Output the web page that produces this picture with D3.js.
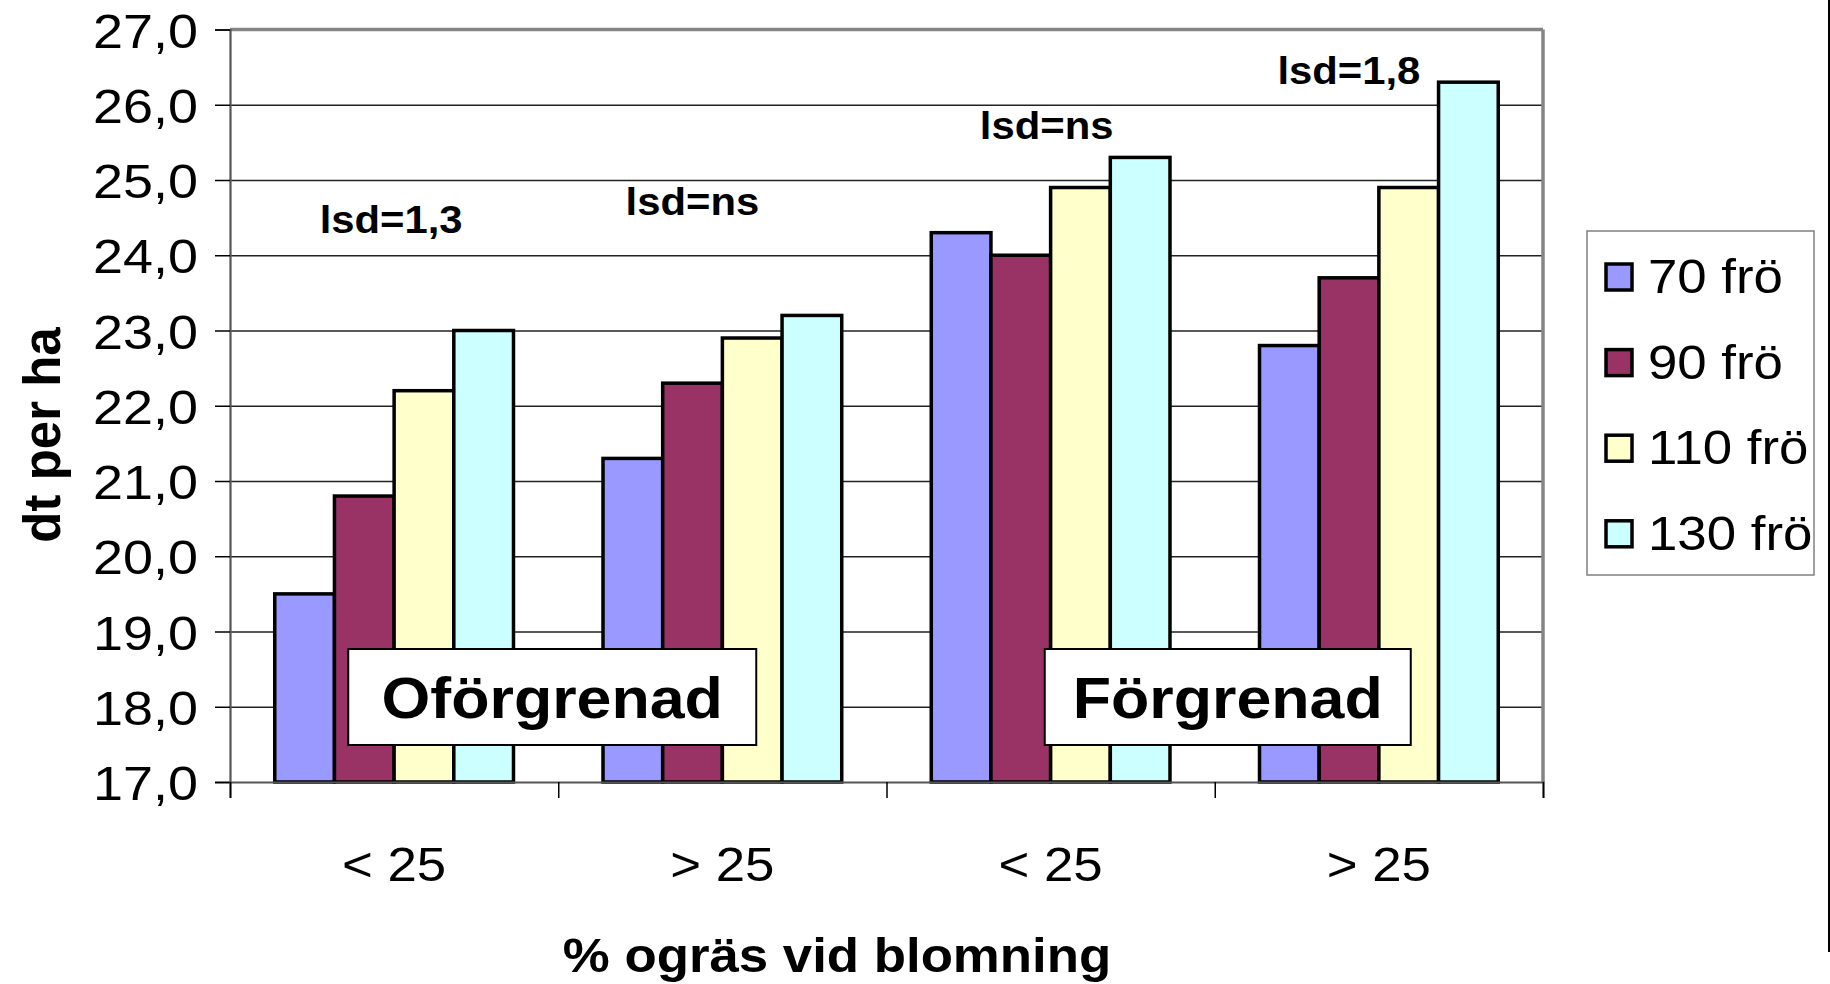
<!DOCTYPE html>
<html>
<head>
<meta charset="utf-8">
<script src="https://cdnjs.cloudflare.com/ajax/libs/d3/7.8.5/d3.min.js"></script>
<style>
body { margin: 0; background: #fff; }
text { font-family: Arial, "Liberation Sans", sans-serif; fill: #000; }
</style>
</head>
<body>
<div id="chart"></div>
<script>
// data
var categories = ["< 25", "> 25", "< 25", "> 25"]
var series = ["70 frö", "90 frö", "110 frö", "130 frö"]
var colors = ["#9999FF", "#993366", "#FFFFCC", "#CCFFFF"]
var v70  = [19.5, 21.3, 24.3, 22.8]
var v90  = [20.8, 22.3, 24.0, 23.7]
var v110 = [22.2, 22.9, 24.9, 24.9]
var v130 = [23.0, 23.2, 25.3, 26.3]
var yTicks = [17, 18, 19, 20, 21, 22, 23, 24, 25, 26, 27]
var lsdText = ["lsd=1,3", "lsd=ns", "lsd=ns", "lsd=1,8"]
var groupNames = ["Oförgrenad", "Förgrenad"]
var yTitle = "dt per ha"
var xTitle = "% ogräs vid blomning"

var values = [v70, v90, v110, v130]

// layout
var W = 1830, H = 984
var pL = 230, pR = 1543, pT = 29.5, pB = 782
var sx = 1.1   // the picture's text is a bit wide

// where the free text sits: [x shift from band centre, y in chart units]
var lsdPos = [[-3, 24.48], [-30, 24.72], [-4, 25.73], [-30, 26.46]]
// label boxes: [first band, last band, x shift, width]
var boxPos = [[0, 1, -6, 408], [2, 3, 13, 366]]

var svg = d3.select("#chart")
  .append("svg")
  .attr("width", W)
  .attr("height", H)

var y = d3.scaleLinear().domain([17, 27]).range([pB, pT])
var x0 = d3.scaleBand().domain(d3.range(categories.length)).range([pL, pR]).padding(0)
var bw = x0.bandwidth() / 5.5
var x1 = d3.scaleBand().domain(d3.range(series.length))
  .range([bw * 0.75, x0.bandwidth() - bw * 0.75]).padding(0)

function fmt(d) { return d.toFixed(1).replace(".", ",") }

function stext(sel, x, yy, str, size, weight, anchor) {
  return sel.append("text")
    .attr("transform", "translate(" + x + "," + yy + ") scale(" + sx + ",1)")
    .attr("text-anchor", anchor)
    .style("font-size", size + "px")
    .style("font-weight", weight)
    .text(str)
}

// gridlines
var grid = svg.append("g")
  .attr("transform", "translate(" + pL + ",0)")
  .call(d3.axisLeft(y).tickValues(yTicks.slice(1, -1)).tickSize(-(pR - pL)).tickFormat(""))
grid.select(".domain").remove()
grid.selectAll("line").style("stroke", "#222").style("stroke-width", 1.4)

// bars
var groups = svg.selectAll(".grp")
  .data(categories)
  .enter()
  .append("g")
  .attr("class", "grp")
  .attr("transform", function (d, i) { return "translate(" + x0(i) + ",0)" })

groups.selectAll("rect")
  .data(function (d, i) { return values.map(function (s, j) { return { s: j, v: s[i] } }) })
  .enter()
  .append("rect")
  .attr("x", function (d) { return x1(d.s) })
  .attr("width", x1.bandwidth())
  .attr("y", function (d) { return y(d.v) })
  .attr("height", function (d) { return y(17) - y(d.v) })
  .style("fill", function (d) { return colors[d.s] })
  .style("stroke", "#000")
  .style("stroke-width", 3.5)

// plot frame, top and right in grey
svg.append("line").attr("x1", pL).attr("x2", pR).attr("y1", pT).attr("y2", pT)
  .style("stroke", "#858585").style("stroke-width", 3.5)
svg.append("line").attr("x1", pR).attr("x2", pR).attr("y1", pT).attr("y2", pB)
  .style("stroke", "#858585").style("stroke-width", 3.5)

// y axis
var yAxis = svg.append("g")
  .attr("transform", "translate(" + pL + ",0)")
  .call(d3.axisLeft(y).tickValues(yTicks).tickSize(15).tickPadding(0).tickFormat(fmt))
yAxis.select(".domain").style("stroke", "#555").style("stroke-width", 2.2)
yAxis.selectAll("line").style("stroke", "#000").style("stroke-width", 1.5)
yAxis.selectAll("text")
  .attr("x", -32 / sx)
  .attr("dy", "0.36em")
  .attr("transform", "scale(" + sx + ",1)")
  .style("font-size", "49px")
  .style("font-family", "Arial, 'Liberation Sans', sans-serif")

// x axis: ticks on the band edges, labels in the middle
var xe = d3.scaleLinear().domain([0, categories.length]).range([pL, pR])
var xAxis = svg.append("g")
  .attr("transform", "translate(0," + pB + ")")
  .call(d3.axisBottom(xe).tickValues(d3.range(categories.length + 1)).tickSize(16).tickFormat(""))
xAxis.select(".domain").style("stroke", "#555").style("stroke-width", 2.2)
xAxis.selectAll("line").style("stroke", "#000").style("stroke-width", 1.5)

categories.forEach(function (c, i) {
  stext(svg, x0(i) + x0.bandwidth() / 2, 881, c, 48, "normal", "middle")
})

// titles
stext(svg, 837, 972, xTitle, 48, "bold", "middle")
svg.append("text")
  .attr("transform", "translate(60,435) rotate(-90)")
  .attr("text-anchor", "middle")
  .style("font-size", "51px")
  .style("font-weight", "bold")
  .text(yTitle)

// lsd notes
lsdText.forEach(function (t, i) {
  var p = lsdPos[i]
  stext(svg, x0(i) + x0.bandwidth() / 2 + p[0], y(p[1]) + 14, t, 38, "bold", "middle")
})

// branched / unbranched boxes
boxPos.forEach(function (b, i) {
  var cx = (x0(b[0]) + x0(b[1]) + x0.bandwidth()) / 2 + b[2]
  svg.append("rect")
    .attr("x", cx - b[3] / 2)
    .attr("y", 649)
    .attr("width", b[3])
    .attr("height", 96)
    .style("fill", "#fff")
    .style("stroke", "#000")
    .style("stroke-width", 2)
  stext(svg, cx, 718, groupNames[i], 57, "bold", "middle")
})

// legend
var leg = svg.append("g").attr("transform", "translate(1587,231)")
leg.append("rect")
  .attr("width", 227)
  .attr("height", 344)
  .style("fill", "#fff")
  .style("stroke", "#808080")
  .style("stroke-width", 1.5)

var items = leg.selectAll(".item")
  .data(series)
  .enter()
  .append("g")
  .attr("class", "item")
  .attr("transform", function (d, i) { return "translate(0," + (i * 85.6) + ")" })

items.append("rect")
  .attr("x", 19)
  .attr("y", 33)
  .attr("width", 26)
  .attr("height", 26)
  .style("fill", function (d, i) { return colors[i] })
  .style("stroke", "#000")
  .style("stroke-width", 3.5)

items.each(function (d) {
  stext(d3.select(this), 61, 62, d, 48, "normal", "start")
})

// dark edge on the far right of the picture
svg.append("line").attr("x1", 1829).attr("x2", 1829).attr("y1", 0).attr("y2", 952)
  .style("stroke", "#000").style("stroke-width", 2)
</script>
</body>
</html>
